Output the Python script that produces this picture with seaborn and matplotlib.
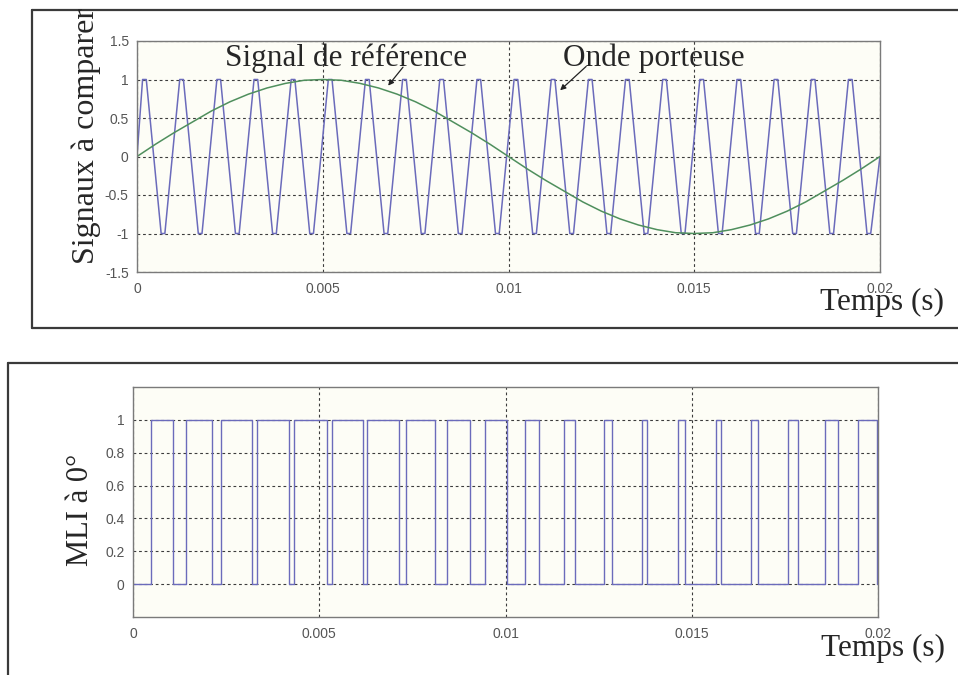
import numpy as np
import pandas as pd
import matplotlib
matplotlib.use("Agg")
import matplotlib.pyplot as plt
from matplotlib.lines import Line2D
import seaborn as sns

# ---- data (times in ms) ----
# triangular carrier: apex times
carrier_peaks = [0.2, 1.2, 2.2, 3.2, 4.2, 5.2, 6.2, 7.2, 8.2, 9.2,
                 10.2, 11.2, 12.2, 13.2, 14.2, 15.2, 16.2, 17.2, 18.2, 19.2]
carrier_troughs = [0.7, 1.7, 2.7, 3.7, 4.7, 5.7, 6.7, 7.7, 8.7, 9.7,
                   10.7, 11.7, 12.7, 13.7, 14.7, 15.7, 16.7, 17.7, 18.7, 19.7]
carrier_start = 0.0
carrier_end = 0.0

# reference sine, sampled every 0.5 ms
ref_time = [0.0, 0.5, 1.0, 1.5, 2.0, 2.5, 3.0, 3.5, 4.0, 4.5, 5.0,
            5.5, 6.0, 6.5, 7.0, 7.5, 8.0, 8.5, 9.0, 9.5, 10.0,
            10.5, 11.0, 11.5, 12.0, 12.5, 13.0, 13.5, 14.0, 14.5, 15.0,
            15.5, 16.0, 16.5, 17.0, 17.5, 18.0, 18.5, 19.0, 19.5, 20.0]
ref_value = [0.00, 0.16, 0.31, 0.45, 0.59, 0.71, 0.81, 0.89, 0.95, 0.99, 1.00,
             0.99, 0.95, 0.89, 0.81, 0.71, 0.59, 0.45, 0.31, 0.16, 0.00,
             -0.16, -0.31, -0.45, -0.59, -0.71, -0.81, -0.89, -0.95, -0.99, -1.00,
             -0.99, -0.95, -0.89, -0.81, -0.71, -0.59, -0.45, -0.31, -0.16, 0.00]

# PWM switching instants
pwm_rise = [0.48, 1.42, 2.36, 3.34, 4.33, 5.33, 6.28, 7.33, 8.42, 9.45,
            10.52, 11.57, 12.64, 13.66, 14.63, 15.65, 16.59, 17.58, 18.58, 19.46]
pwm_fall = [1.08, 2.13, 3.20, 4.18, 5.20, 6.18, 7.14, 8.10, 9.06, 10.03,
            10.90, 11.87, 12.86, 13.80, 14.82, 15.79, 16.78, 17.85, 18.93, 19.97]

x_ticks = [0, 0.005, 0.01, 0.015, 0.02]
x_tick_labels = ["0", "0.005", "0.01", "0.015", "0.02"]
top_y_ticks = [-1.5, -1, -0.5, 0, 0.5, 1, 1.5]
top_y_labels = ["-1.5", "-1", "-0.5", "0", "0.5", "1", "1.5"]
bot_y_ticks = [0, 0.2, 0.4, 0.6, 0.8, 1]
bot_y_labels = ["0", "0.2", "0.4", "0.6", "0.8", "1"]

# ---- build drawable series ----
flat = 0.05  # half width of the flat carrier apexes (ms)
events = [(p, 1.0) for p in carrier_peaks] + [(t, -1.0) for t in carrier_troughs]
events.sort()
cx, cy = [0.0], [carrier_start]
for t, v in events:
    cx += [t - flat, t + flat]
    cy += [v, v]
cx.append(20.0)
cy.append(carrier_end)
carrier = pd.DataFrame({"t": np.array(cx) / 1000.0, "v": cy})
reference = pd.DataFrame({"t": np.array(ref_time) / 1000.0, "v": ref_value})

px, py = [0.0], [0.0]
for r, f in zip(pwm_rise, pwm_fall):
    px += [r, r, f, f]
    py += [0, 1, 1, 0]
px.append(20.0)
py.append(0)
pwm = pd.DataFrame({"t": np.array(px) / 1000.0, "v": py})

# ---- figure ----
sns.set_style("white")
plt.rcParams["font.family"] = ["Liberation Sans", "DejaVu Sans"]

W, H = 958, 675
fig = plt.figure(figsize=(W / 100, H / 100), dpi=100)
fig.patch.set_facecolor("white")


def box(l, t, r, b):
    return [l / W, 1 - b / H, (r - l) / W, (b - t) / H]


ax1 = fig.add_axes(box(137, 41, 880, 272))
ax2 = fig.add_axes(box(133, 387, 878, 617))

blue = "#6b6bbb"
green = "#4f8f5d"

sns.lineplot(data=carrier, x="t", y="v", ax=ax1, color=blue, lw=1.1,
             estimator=None, sort=False)
sns.lineplot(data=reference, x="t", y="v", ax=ax1, color=green, lw=1.1,
             estimator=None, sort=False)
sns.lineplot(data=pwm, x="t", y="v", ax=ax2, color=blue, lw=1.0,
             estimator=None, sort=False)

tick_font = {"family": "Liberation Sans", "size": 10}
for ax, yt, yl, ylim in [(ax1, top_y_ticks, top_y_labels, (-1.5, 1.5)),
                         (ax2, bot_y_ticks, bot_y_labels, (-0.2, 1.2))]:
    ax.set_facecolor("#fdfdf6")
    ax.set_xlim(0, 0.02)
    ax.set_ylim(*ylim)
    ax.set_xticks(x_ticks)
    ax.set_xticklabels(x_tick_labels, fontdict=tick_font, color="#555555")
    ax.set_yticks(yt)
    ax.set_yticklabels(yl, fontdict=tick_font, color="#555555")
    ax.set_xlabel("")
    ax.set_ylabel("")
    ax.tick_params(direction="in", length=4, width=0.8, color="#555555")
    ax.tick_params(axis="y", pad=6)
    ax.tick_params(axis="x", pad=7)
    ax.grid(True, color="#3c3c3c", linestyle=(0, (2.5, 2.5)), lw=0.8)
    ax.set_axisbelow(True)
    for s in ax.spines.values():
        s.set_color("#7a7a7a")
        s.set_linewidth(1.0)

serif = ["Liberation Serif", "DejaVu Serif"]

# panel frames
frame_kw = dict(color="#3a3a3a", lw=1.6, transform=fig.transFigure)
for xs, ys in [((32, 32), (9.5, 328)), ((32, 970), (9.5, 9.5)), ((32, 970), (328, 328)),
               ((8, 8), (363, 690)), ((8, 970), (363, 363))]:
    fig.add_artist(Line2D([x / W for x in xs], [1 - y / H for y in ys], **frame_kw))

fig.text(86.5 / W, 1 - 264 / H, "Signaux à comparer", rotation=90, ha="center",
         va="bottom", family=serif, fontsize=23)
fig.text(80 / W, 1 - 510 / H, "MLI à 0°", rotation=90, ha="center", va="center",
         family=serif, fontsize=22)
fig.text(820 / W, 1 - 310 / H, "Temps (s)", ha="left", va="baseline",
         family=serif, fontsize=22.5)
fig.text(821 / W, 1 - 656 / H, "Temps (s)", ha="left", va="baseline",
         family=serif, fontsize=22.5)
fig.text(225 / W, 1 - 66 / H, "Signal de référence", ha="left", va="baseline",
         family=serif, fontsize=22.5)
fig.text(563 / W, 1 - 66 / H, "Onde porteuse", ha="left", va="baseline",
         family=serif, fontsize=22.5)

arrow = dict(arrowstyle="-|>", color="#222222", lw=0.9, mutation_scale=8,
             shrinkA=0, shrinkB=0)
ax1.annotate("", xy=(0.00676, 0.92), xytext=(0.00716, 1.16), arrowprops=arrow,
             annotation_clip=False)
ax1.annotate("", xy=(0.01139, 0.86), xytext=(0.01209, 1.17), arrowprops=arrow,
             annotation_clip=False)

fig.savefig("out.png", dpi=100)
